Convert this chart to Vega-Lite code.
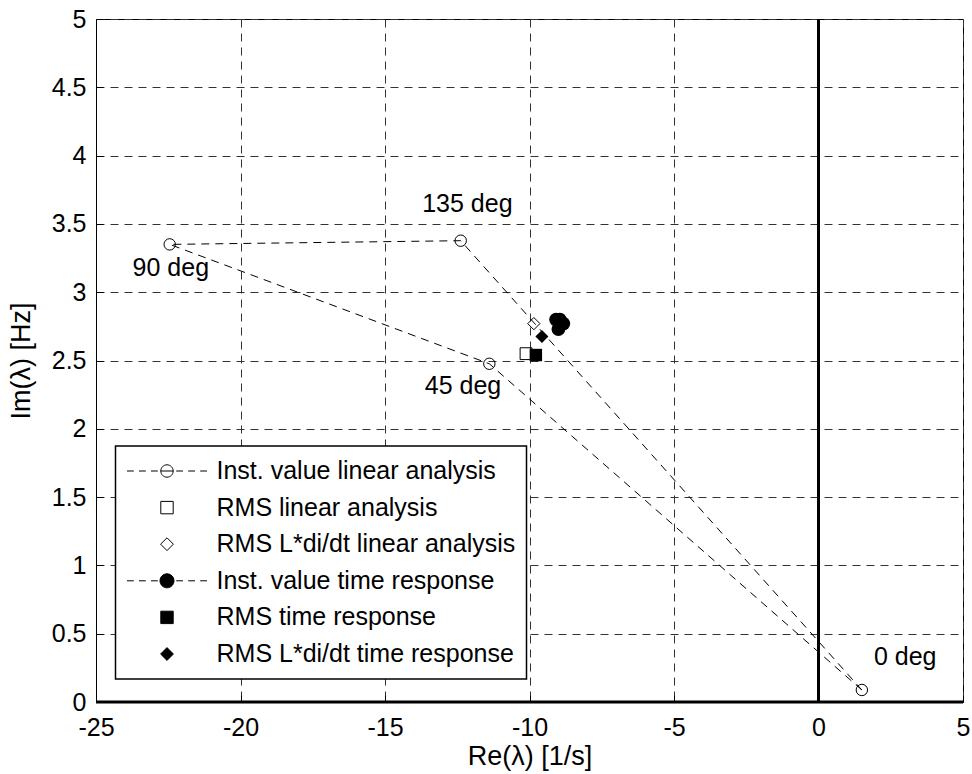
{
  "$schema": "https://vega.github.io/schema/vega-lite/v6.json",
  "width": 867,
  "height": 683,
  "autosize": {"type": "none"},
  "padding": {"left": 96, "top": 19, "right": 9, "bottom": 72},
  "background": "white",
  "config": {
    "font": "Liberation Sans",
    "view": {"stroke": "black", "strokeWidth": 1},
    "axis": {
      "labelFont": "Liberation Sans",
      "labelFontSize": 25,
      "labelColor": "black",
      "labelFlush": false,
      "labelOverlap": false,
      "titleFont": "Liberation Sans",
      "titleFontSize": 27,
      "titleFontWeight": "normal",
      "titleColor": "black",
      "grid": true,
      "gridColor": "#333333",
      "gridDash": [8, 6],
      "gridWidth": 1,
      "gridOpacity": 1,
      "domainColor": "black",
      "domainWidth": 1,
      "tickColor": "black",
      "tickSize": -7,
      "labelPadding": 17
    },
    "legend": {
      "labelFont": "Liberation Sans",
      "labelFontSize": 25,
      "labelColor": "black",
      "labelLimit": 500,
      "symbolSize": 6400,
      "symbolStrokeColor": "black",
      "symbolStrokeWidth": 1,
      "labelOffset": 9,
      "clipHeight": 28,
      "rowPadding": 8.6,
      "padding": 11,
      "strokeColor": "black",
      "strokeWidth": 1.5,
      "fillColor": "white",
      "cornerRadius": 0
    }
  },
  "datasets": {
    "pts": [
      {"series": "Inst. value linear analysis", "angle": "0 deg", "ord": 0, "re": 1.5, "im": 0.088},
      {"series": "Inst. value linear analysis", "angle": "45 deg", "ord": 1, "re": -11.39, "im": 2.476},
      {"series": "Inst. value linear analysis", "angle": "90 deg", "ord": 2, "re": -22.45, "im": 3.35},
      {"series": "Inst. value linear analysis", "angle": "135 deg", "ord": 3, "re": -12.38, "im": 3.377},
      {"series": "Inst. value linear analysis", "angle": "0 deg", "ord": 4, "re": 1.5, "im": 0.088},
      {"series": "RMS linear analysis", "angle": "", "ord": 0, "re": -10.12, "im": 2.55},
      {"series": "RMS L*di/dt linear analysis", "angle": "", "ord": 0, "re": -9.85, "im": 2.77},
      {"series": "Inst. value time response", "angle": "0 deg", "ord": 0, "re": -8.83, "im": 2.77},
      {"series": "Inst. value time response", "angle": "45 deg", "ord": 1, "re": -9.0, "im": 2.73},
      {"series": "Inst. value time response", "angle": "90 deg", "ord": 2, "re": -9.08, "im": 2.8},
      {"series": "Inst. value time response", "angle": "135 deg", "ord": 3, "re": -8.95, "im": 2.8},
      {"series": "Inst. value time response", "angle": "0 deg", "ord": 4, "re": -8.83, "im": 2.77},
      {"series": "RMS time response", "angle": "", "ord": 0, "re": -9.78, "im": 2.54},
      {"series": "RMS L*di/dt time response", "angle": "", "ord": 0, "re": -9.57, "im": 2.676}
    ],
    "labels": [
      {"text": "0 deg", "re": 3.0, "im": 0.27},
      {"text": "45 deg", "re": -12.3, "im": 2.256},
      {"text": "90 deg", "re": -22.41, "im": 3.116},
      {"text": "135 deg", "re": -12.15, "im": 3.59}
    ]
  },
  "layer": [
    {
      "data": {"name": "pts"},
      "transform": [{"filter": "datum.series == 'Inst. value linear analysis' || datum.series == 'Inst. value time response'"}],
      "mark": {"type": "line", "color": "black", "strokeWidth": 1, "strokeDash": [8, 6]},
      "encoding": {
        "x": {
          "field": "re", "type": "quantitative",
          "scale": {"domain": [-25, 5], "nice": false, "zero": false},
          "axis": {"title": "Re(λ) [1/s]", "values": [-25, -20, -15, -10, -5, 0, 5], "labelExpr": "'' + datum.value", "labelPadding": 20, "titlePadding": 3}
        },
        "y": {
          "field": "im", "type": "quantitative",
          "scale": {"domain": [0, 5], "nice": false, "zero": false},
          "axis": {"title": "Im(λ) [Hz]", "values": [0, 0.5, 1, 1.5, 2, 2.5, 3, 3.5, 4, 4.5, 5], "labelExpr": "'' + datum.value", "titlePadding": 16}
        },
        "detail": {"field": "series"},
        "order": {"field": "ord", "type": "quantitative"}
      }
    },
    {
      "data": {"values": [{}]},
      "mark": {"type": "rule", "color": "black", "strokeWidth": 3},
      "encoding": {"x": {"datum": 0, "type": "quantitative"}}
    },
    {
      "data": {"values": [{}]},
      "mark": {"type": "rule", "color": "black", "strokeWidth": 3},
      "encoding": {"y": {"datum": 0, "type": "quantitative"}}
    },
    {
      "data": {"name": "pts"},
      "transform": [{"filter": "datum.series == 'Inst. value linear analysis' && datum.ord < 4"}],
      "mark": {"type": "point", "shape": "circle", "filled": false, "stroke": "black", "strokeWidth": 1, "size": 130, "opacity": 1},
      "encoding": {"x": {"field": "re", "type": "quantitative"}, "y": {"field": "im", "type": "quantitative"}}
    },
    {
      "data": {"name": "pts"},
      "transform": [{"filter": "datum.series == 'RMS linear analysis'"}],
      "mark": {"type": "point", "shape": "square", "filled": false, "stroke": "black", "strokeWidth": 1, "size": 140, "opacity": 1},
      "encoding": {"x": {"field": "re", "type": "quantitative"}, "y": {"field": "im", "type": "quantitative"}}
    },
    {
      "data": {"name": "pts"},
      "transform": [{"filter": "datum.series == 'RMS L*di/dt linear analysis'"}],
      "mark": {"type": "point", "shape": "diamond", "filled": false, "stroke": "black", "strokeWidth": 1, "size": 150, "opacity": 1},
      "encoding": {"x": {"field": "re", "type": "quantitative"}, "y": {"field": "im", "type": "quantitative"}}
    },
    {
      "data": {"name": "pts"},
      "transform": [{"filter": "datum.series == 'Inst. value time response' && datum.ord < 4"}],
      "mark": {"type": "point", "shape": "circle", "filled": true, "color": "black", "size": 190, "opacity": 1},
      "encoding": {"x": {"field": "re", "type": "quantitative"}, "y": {"field": "im", "type": "quantitative"}}
    },
    {
      "data": {"name": "pts"},
      "transform": [{"filter": "datum.series == 'RMS time response'"}],
      "mark": {"type": "point", "shape": "square", "filled": true, "color": "black", "size": 155, "opacity": 1},
      "encoding": {"x": {"field": "re", "type": "quantitative"}, "y": {"field": "im", "type": "quantitative"}}
    },
    {
      "data": {"name": "pts"},
      "transform": [{"filter": "datum.series == 'RMS L*di/dt time response'"}],
      "mark": {"type": "point", "shape": "diamond", "filled": true, "color": "black", "size": 170, "opacity": 1},
      "encoding": {"x": {"field": "re", "type": "quantitative"}, "y": {"field": "im", "type": "quantitative"}}
    },
    {
      "data": {"name": "labels"},
      "mark": {"type": "text", "font": "Liberation Sans", "fontSize": 25, "color": "black", "align": "center", "baseline": "alphabetic"},
      "encoding": {
        "x": {"field": "re", "type": "quantitative"},
        "y": {"field": "im", "type": "quantitative"},
        "text": {"field": "text"}
      }
    },
    {
      "data": {"name": "pts"},
      "transform": [{"filter": "false"}],
      "mark": {"type": "point", "filled": true, "strokeWidth": 1, "size": 6400, "opacity": 1},
      "encoding": {
        "x": {"field": "re", "type": "quantitative"},
        "y": {"field": "im", "type": "quantitative"},
        "shape": {
          "field": "series", "type": "nominal",
          "scale": {
            "domain": ["Inst. value linear analysis", "RMS linear analysis", "RMS L*di/dt linear analysis", "Inst. value time response", "RMS time response", "RMS L*di/dt time response"],
            "range": [
              "M-1,0H-0.83M-0.7,0H-0.53M-0.4,0H-0.23M0.23,0H0.4M0.53,0H0.7M0.83,0H1M-0.155,0H0.155M0.155,0A0.155,0.155,0,1,1,-0.155,0A0.155,0.155,0,1,1,0.155,0Z",
              "M-0.155,-0.155H0.155V0.155H-0.155Z",
              "M0,-0.16L0.16,0L0,0.16L-0.16,0Z",
              "M-1,0H-0.83M-0.7,0H-0.53M-0.4,0H-0.23M0.23,0H0.4M0.53,0H0.7M0.83,0H1M0.175,0A0.175,0.175,0,1,1,-0.175,0A0.175,0.175,0,1,1,0.175,0Z",
              "M-0.155,-0.155H0.155V0.155H-0.155Z",
              "M0,-0.16L0.16,0L0,0.16L-0.16,0Z"
            ]
          },
          "legend": {"orient": "none", "legendX": 19.5, "legendY": 427, "title": null}
        },
        "fill": {
          "field": "series", "type": "nominal",
          "scale": {
            "domain": ["Inst. value linear analysis", "RMS linear analysis", "RMS L*di/dt linear analysis", "Inst. value time response", "RMS time response", "RMS L*di/dt time response"],
            "range": ["white", "white", "white", "black", "black", "black"]
          },
          "legend": {"orient": "none", "legendX": 19.5, "legendY": 427, "title": null}
        },
        "stroke": {
          "field": "series", "type": "nominal",
          "scale": {
            "domain": ["Inst. value linear analysis", "RMS linear analysis", "RMS L*di/dt linear analysis", "Inst. value time response", "RMS time response", "RMS L*di/dt time response"],
            "range": ["black", "black", "black", "black", "black", "black"]
          },
          "legend": {"orient": "none", "legendX": 19.5, "legendY": 427, "title": null}
        }
      }
    }
  ]
}
